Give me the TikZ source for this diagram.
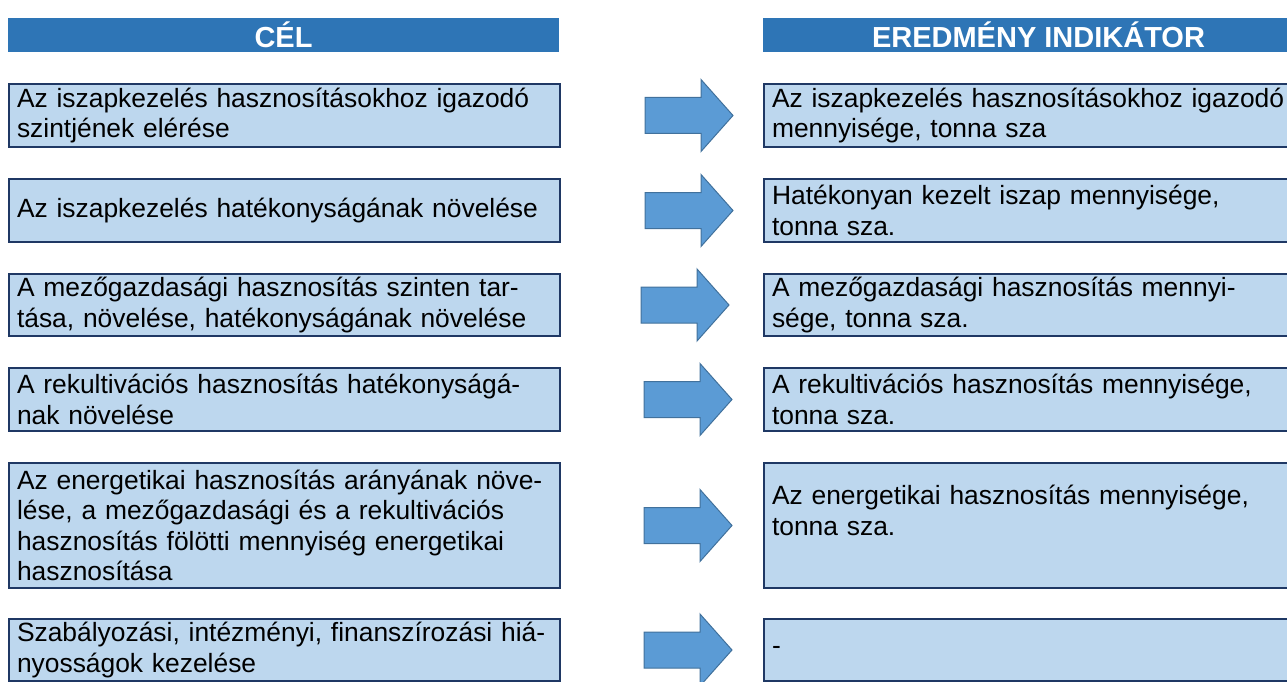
\documentclass[tikz,border=0pt]{standalone}
\usepackage{fontspec}
\setmainfont{Liberation Sans}
\definecolor{fejleckek}{HTML}{2E75B6}
\definecolor{dobozkek}{HTML}{BDD7EE}
\definecolor{keret}{HTML}{1F3864}
\definecolor{nyilkek}{HTML}{5B9BD5}
\definecolor{nyilkeret}{HTML}{41719C}
\tikzset{
    cel/.style={draw=keret, line width=2pt, fill=dobozkek, anchor=north west,
        inner xsep=8pt, inner ysep=0pt, minimum width=551pt, text width=535pt,
        align=left, font=\fontsize{26.4}{30.5}\selectfont},
    eredmeny/.style={cel},
    fejlec/.style={fill=fejleckek},
    fejlecszoveg/.style={text=white, inner sep=0pt, font=\bfseries\fontsize{29}{30}\selectfont},
    nyil/.style={fill=nyilkek, draw=nyilkeret, line width=1pt},
}

\begin{document}
\begin{tikzpicture}[x=1pt, y=-1pt]
\useasboundingbox (0,0) rectangle (1287,682);
% fejlecek
\fill[fejlec] (8,18) rectangle (559,52);
\fill[fejlec] (763,18) rectangle (1314,52);
\node[fejlecszoveg] (celcim) at (283.5,35) {CÉL};
\node[fejlecszoveg] (eredmenycim) at (1038.5,35) {EREDMÉNY INDIKÁTOR};
% celok
\node[cel, minimum height=63pt] (c1) at (8,83) {Az iszapkezelés hasznosításokhoz igazodó\\szintjének elérése};
\node[cel, minimum height=63pt] (c2) at (8,178) {Az iszapkezelés hatékonyságának növelése};
\node[cel, minimum height=62pt] (c3) at (8,273) {A mezőgazdasági hasznosítás szinten tar-\\tása, növelése, hatékonyságának növelése};
\node[cel, minimum height=63pt] (c4) at (8,367) {A rekultivációs hasznosítás hatékonyságá-\\nak növelése};
\node[cel, minimum height=125pt] (c5) at (8,462) {Az energetikai hasznosítás arányának növe-\\lése, a mezőgazdasági és a rekultivációs\\hasznosítás fölötti mennyiség energetikai\\hasznosítása};
\node[cel, minimum height=62pt] (c6) at (8,618) {Szabályozási, intézményi, finanszírozási hiá-\\nyosságok kezelése};
% indikatorok
\node[eredmeny, minimum height=63pt] (e1) at (763,83) {Az iszapkezelés hasznosításokhoz igazodó\\mennyisége, tonna sza};
\node[eredmeny, minimum height=63pt] (e2) at (763,178) {Hatékonyan kezelt iszap mennyisége,\\tonna sza.};
\node[eredmeny, minimum height=62pt] (e3) at (763,273) {A mezőgazdasági hasznosítás mennyi-\\sége, tonna sza.};
\node[eredmeny, minimum height=63pt] (e4) at (763,367) {A rekultivációs hasznosítás mennyisége,\\tonna sza.};
\node[eredmeny, minimum height=125pt] (e5) at (763,462) {Az energetikai hasznosítás mennyisége,\\tonna sza.\\\mbox{}};
\node[eredmeny, minimum height=62pt] (e6) at (763,618) {-};
% nyilak
\foreach \i/\dx in {1/-118, 2/-118, 3/-122, 4/-119, 5/-119, 6/-119} {
    \draw[nyil, shift={(e\i.west)}, xshift=\dx pt] (0,-18) -- (56,-18) -- (56,-36) -- (88,0) -- (56,36) -- (56,18) -- (0,18) -- cycle;
}
\end{tikzpicture}
\end{document}
